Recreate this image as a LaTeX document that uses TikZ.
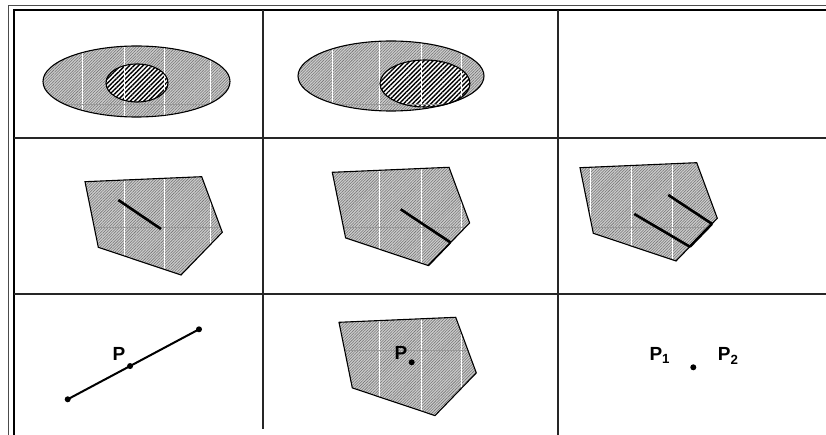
\documentclass[tikz,border=0pt]{standalone}
\usepackage{fontspec}
\setmainfont{Liberation Sans}
\usepackage{tikz}
\usetikzlibrary{calc,patterns.meta}
\tikzset{
  frameout/.style={line width=1.3pt,black!70},
  framein/.style={line width=2.4pt,black},
  gridln/.style={line width=1.1pt,black!85},
  outln/.style={line width=1.1pt,black},
  shadefill/.style={fill=gray!40,postaction={pattern={Lines[angle=45,distance=2pt,line width=0.55pt]},pattern color=black!55}},
  hatchfill/.style={fill=white,postaction={pattern={Lines[angle=45,distance=3.2pt,line width=1.4pt]},pattern color=black}},
  tilegap/.style={white,line width=0.75pt},
  tileseam/.style={black!40,line width=0.6pt},
  segm/.style={line width=2.6pt},
  ptdot/.style={circle,fill=black,inner sep=0pt,minimum size=6pt},
  ptlab/.style={font=\fontsize{19}{22}\selectfont\bfseries,inner sep=0pt},
}
\def\pent{(0,0) -- (116.7,-5) -- (137.3,50.6) -- (96,93.3) -- (13.3,65.6) -- cycle}

\begin{document}
\begin{tikzpicture}[x=1pt,y=-1pt]
  \useasboundingbox (0,0) rectangle (826,435);
  % frame and cells
  \draw[frameout] (8.5,435) -- (8.5,5.5) -- (826,5.5);
  \draw[framein] (13.8,435) -- (13.8,10) -- (826,10);
  \draw[gridln] (13.8,138) -- (826,138);
  \draw[gridln] (13.8,294) -- (826,294);
  \draw[gridln] (263,10) -- (263,429);
  \draw[gridln] (558,10) -- (558,435);

  % row 1, cell 1: ellipse inside ellipse
  \fill[shadefill] (136.5,81.5) ellipse [x radius=93.5,y radius=35.5];
  \fill[hatchfill] (137,83) ellipse [x radius=31,y radius=19];
  \begin{scope}
    \clip (136.5,81.5) ellipse [x radius=93.5,y radius=35.5];
    \foreach \x in {82.3,124,164.3,210.7} \draw[tilegap] (\x,40) -- (\x,120);
    \draw[tileseam] (40,104) -- (235,104);
  \end{scope}
  \draw[outln] (136.5,81.5) ellipse [x radius=93.5,y radius=35.5];
  \draw[outln] (137,83) ellipse [x radius=31,y radius=19];

  % row 1, cell 2: ellipse touching the rim
  \fill[shadefill] (391,76) ellipse [x radius=93,y radius=35];
  \fill[hatchfill] (425,83.5) ellipse [x radius=45,y radius=23.5];
  \begin{scope}
    \clip (391,76) ellipse [x radius=93,y radius=35];
    \foreach \x in {332.7,379,421,461.7} \draw[tilegap] (\x,35) -- (\x,115);
    \draw[tileseam] (295,104) -- (490,104);
  \end{scope}
  \draw[outln] (391,76) ellipse [x radius=93,y radius=35];
  \draw[outln] (425,83.5) ellipse [x radius=45,y radius=23.5];

  % row 2, cell 1: segment inside
  \begin{scope}[shift={(85,181.7)}]
    \fill[shadefill] \pent;
    \begin{scope}
      \clip \pent;
      \foreach \x in {39,79.3,125.7} \draw[tilegap] (\x,-10) -- (\x,100);
      \draw[tileseam] (-5,45.3) -- (145,45.3);
    \end{scope}
    \draw[outln] \pent;
    \coordinate (a1) at (33.3,18.3);
    \coordinate (a2) at (76,47.3);
  \end{scope}
  \draw[segm] (a1) -- (a2);

  % row 2, cell 2: segment reaching the edge
  \begin{scope}[shift={(332.3,172.3)}]
    \fill[shadefill] \pent;
    \begin{scope}
      \clip \pent;
      \foreach \x in {46.7,88.7,128.7} \draw[tilegap] (\x,-10) -- (\x,100);
      \draw[tileseam] (-5,55) -- (145,55);
    \end{scope}
    \draw[outln] \pent;
    \coordinate (b1) at (68.4,37);
    \coordinate (bv3) at (137.3,50.6);
    \coordinate (bv4) at (96,93.3);
  \end{scope}
  \coordinate (b2) at ($(bv3)!0.46!(bv4)$);
  \draw[segm] (b1) -- (b2);
  \draw[line width=1.5pt] (b2) -- (bv4);

  % row 2, cell 3: two segments on the edge
  \begin{scope}[shift={(580,167.7)}]
    \fill[shadefill] \pent;
    \begin{scope}
      \clip \pent;
      \foreach \x in {10,51,92} \draw[tilegap] (\x,-10) -- (\x,100);
      \draw[tileseam] (-5,59.3) -- (145,59.3);
    \end{scope}
    \draw[outln] \pent;
    \coordinate (c1) at (54.3,46.3);
    \coordinate (d1) at (88.3,27.3);
    \coordinate (cv3) at (137.3,50.6);
    \coordinate (cv4) at (96,93.3);
  \end{scope}
  \coordinate (c2) at ($(cv3)!0.665!(cv4)$);
  \coordinate (d2) at ($(cv3)!0.13!(cv4)$);
  \draw[segm] (c1) -- (c2);
  \draw[segm] (d1) -- (d2);
  \draw[segm] (d2) -- (c2);

  % row 3, cell 1: point on a line
  \coordinate (ln1) at (67.7,399.3);
  \coordinate (ln2) at (199,329.3);
  \draw[line width=2pt] (ln1) -- (ln2);
  \node[ptdot] (e1) at (ln1) {};
  \node[ptdot] (e2) at (ln2) {};
  \node[ptdot] (pl) at ($(ln1)!0.475!(ln2)$) {};
  \node[ptlab] (lpl) at (119,354) {P};

  % row 3, cell 2: point inside the region
  \begin{scope}[shift={(339,322.3)}]
    \fill[shadefill] \pent;
    \begin{scope}
      \clip \pent;
      \foreach \x in {40,82,122} \draw[tilegap] (\x,-10) -- (\x,100);
      \draw[tileseam] (-5,27.7) -- (145,27.7);
    \end{scope}
    \draw[outln] \pent;
  \end{scope}
  \node[ptdot] (pr) at (411.7,362.3) {};
  \node[ptlab] (lpr) at (401,353.3) {P};

  % row 3, cell 3: a single point
  \node[ptdot] (pp) at (693.3,367.3) {};
  \node[ptlab,anchor=base west] (lp1) at (649.3,360.7) {P\textsubscript{1}};
  \node[ptlab,anchor=base west] (lp2) at (717.7,360.7) {P\textsubscript{2}};
\end{tikzpicture}
\end{document}
